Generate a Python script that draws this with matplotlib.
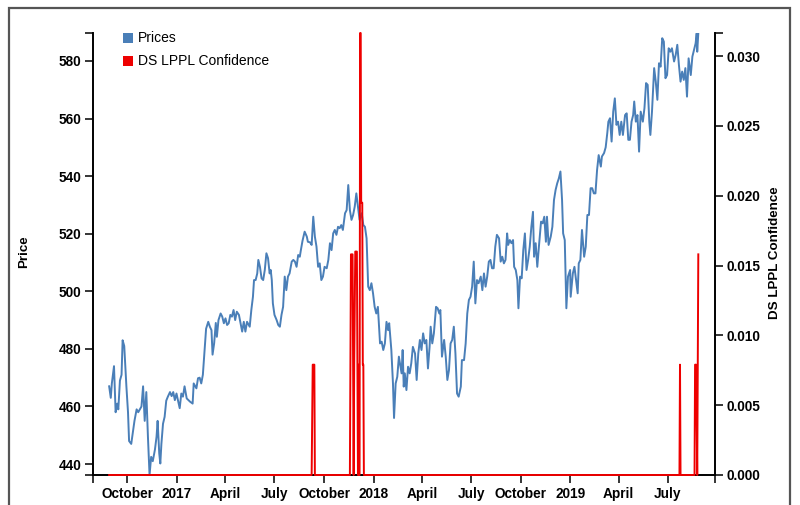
import matplotlib
matplotlib.use("Agg")
import matplotlib.pyplot as plt
from matplotlib.patches import Rectangle
from matplotlib.ticker import NullFormatter, FormatStrFormatter
import matplotlib.dates as mdates
import pandas as pd

# price series
price_dates = [
    "2016-08-28", "2016-08-31", "2016-09-02", "2016-09-06", "2016-09-09", "2016-09-12", "2016-09-14",
    "2016-09-17", "2016-09-20", "2016-09-22", "2016-09-25", "2016-09-29", "2016-10-02", "2016-10-04",
    "2016-10-08", "2016-10-11", "2016-10-14", "2016-10-18", "2016-10-21", "2016-10-24", "2016-10-27",
    "2016-10-30", "2016-11-02", "2016-11-05", "2016-11-08", "2016-11-11", "2016-11-14", "2016-11-17",
    "2016-11-21", "2016-11-24", "2016-11-26", "2016-11-29", "2016-12-01", "2016-12-03", "2016-12-06",
    "2016-12-09", "2016-12-12", "2016-12-15", "2016-12-19", "2016-12-22", "2016-12-25", "2016-12-28",
    "2016-12-31", "2017-01-06", "2017-01-09", "2017-01-12", "2017-01-15", "2017-01-19", "2017-01-25",
    "2017-01-30", "2017-02-01", "2017-02-06", "2017-02-09", "2017-02-12", "2017-02-15", "2017-02-18",
    "2017-02-22", "2017-02-24", "2017-02-28", "2017-03-03", "2017-03-06", "2017-03-08", "2017-03-11",
    "2017-03-14", "2017-03-16", "2017-03-19", "2017-03-23", "2017-03-26", "2017-03-29", "2017-04-01",
    "2017-04-04", "2017-04-07", "2017-04-10", "2017-04-13", "2017-04-16", "2017-04-19", "2017-04-22",
    "2017-04-26", "2017-04-29", "2017-05-02", "2017-05-05", "2017-05-08", "2017-05-11", "2017-05-16",
    "2017-05-19", "2017-05-22", "2017-05-24", "2017-05-27", "2017-05-30", "2017-06-01", "2017-06-04",
    "2017-06-07", "2017-06-10", "2017-06-13", "2017-06-16", "2017-06-19", "2017-06-22", "2017-06-24",
    "2017-06-26", "2017-06-28", "2017-07-01", "2017-07-05", "2017-07-08", "2017-07-11", "2017-07-14",
    "2017-07-17", "2017-07-20", "2017-07-23", "2017-07-26", "2017-07-29", "2017-08-02", "2017-08-05",
    "2017-08-08", "2017-08-11", "2017-08-14", "2017-08-17", "2017-08-19", "2017-08-22", "2017-08-26",
    "2017-08-30", "2017-09-01", "2017-09-05", "2017-09-08", "2017-09-11", "2017-09-14", "2017-09-17",
    "2017-09-20", "2017-09-23", "2017-09-26", "2017-09-29", "2017-10-02", "2017-10-06", "2017-10-09",
    "2017-10-12", "2017-10-15", "2017-10-18", "2017-10-21", "2017-10-24", "2017-10-27", "2017-10-30",
    "2017-11-02", "2017-11-05", "2017-11-09", "2017-11-12", "2017-11-15", "2017-11-18", "2017-11-21",
    "2017-11-24", "2017-11-27", "2017-11-30", "2017-12-03", "2017-12-06", "2017-12-10", "2017-12-13",
    "2017-12-16", "2017-12-19", "2017-12-22", "2017-12-25", "2017-12-28", "2017-12-31", "2018-01-03",
    "2018-01-06", "2018-01-09", "2018-01-13", "2018-01-16", "2018-01-19", "2018-01-22", "2018-01-25",
    "2018-01-28", "2018-01-30", "2018-02-03", "2018-02-06", "2018-02-08", "2018-02-11", "2018-02-14",
    "2018-02-17", "2018-02-22", "2018-02-24", "2018-02-26", "2018-02-28", "2018-03-03", "2018-03-06",
    "2018-03-09", "2018-03-12", "2018-03-15", "2018-03-19", "2018-03-22", "2018-03-25", "2018-03-28",
    "2018-03-31", "2018-04-03", "2018-04-06", "2018-04-09", "2018-04-12", "2018-04-15", "2018-04-17",
    "2018-04-20", "2018-04-23", "2018-04-27", "2018-04-30", "2018-05-03", "2018-05-05", "2018-05-08",
    "2018-05-12", "2018-05-15", "2018-05-18", "2018-05-21", "2018-05-24", "2018-05-27", "2018-05-30",
    "2018-06-02", "2018-06-05", "2018-06-08", "2018-06-12", "2018-06-14", "2018-06-18", "2018-06-21",
    "2018-06-24", "2018-06-27", "2018-06-30", "2018-07-03", "2018-07-06", "2018-07-09", "2018-07-12",
    "2018-07-15", "2018-07-19", "2018-07-22", "2018-07-25", "2018-07-28", "2018-07-31", "2018-08-03",
    "2018-08-06", "2018-08-09", "2018-08-12", "2018-08-15", "2018-08-18", "2018-08-22", "2018-08-25",
    "2018-08-28", "2018-08-31", "2018-09-03", "2018-09-06", "2018-09-08", "2018-09-11", "2018-09-14",
    "2018-09-17", "2018-09-19", "2018-09-22", "2018-09-25", "2018-09-27", "2018-09-30", "2018-10-03",
    "2018-10-06", "2018-10-09", "2018-10-12", "2018-10-15", "2018-10-18", "2018-10-21", "2018-10-24",
    "2018-10-26", "2018-10-29", "2018-11-01", "2018-11-04", "2018-11-08", "2018-11-11", "2018-11-14",
    "2018-11-17", "2018-11-19", "2018-11-22", "2018-11-26", "2018-11-29", "2018-12-02", "2018-12-05",
    "2018-12-08", "2018-12-11", "2018-12-14", "2018-12-17", "2018-12-19", "2018-12-22", "2018-12-25",
    "2018-12-28", "2019-01-01", "2019-01-02", "2019-01-06", "2019-01-09", "2019-01-12", "2019-01-15",
    "2019-01-17", "2019-01-20", "2019-01-23", "2019-01-27", "2019-01-30", "2019-02-02", "2019-02-05",
    "2019-02-08", "2019-02-11", "2019-02-14", "2019-02-17", "2019-02-20", "2019-02-23", "2019-02-27",
    "2019-03-01", "2019-03-05", "2019-03-08", "2019-03-11", "2019-03-13", "2019-03-16", "2019-03-19",
    "2019-03-22", "2019-03-25", "2019-03-28", "2019-03-31", "2019-04-03", "2019-04-06", "2019-04-09",
    "2019-04-13", "2019-04-16", "2019-04-19", "2019-04-22", "2019-04-25", "2019-04-28", "2019-04-30",
    "2019-05-03", "2019-05-06", "2019-05-09", "2019-05-12", "2019-05-16", "2019-05-19", "2019-05-22",
    "2019-05-25", "2019-05-28", "2019-05-30", "2019-06-02", "2019-06-06", "2019-06-09", "2019-06-12",
    "2019-06-15", "2019-06-18", "2019-06-21", "2019-06-24", "2019-06-27", "2019-06-30", "2019-07-03",
    "2019-07-06", "2019-07-09", "2019-07-13", "2019-07-16", "2019-07-19", "2019-07-22", "2019-07-25",
    "2019-07-28", "2019-07-31", "2019-08-03", "2019-08-06", "2019-08-09", "2019-08-13", "2019-08-16",
    "2019-08-19", "2019-08-22", "2019-08-24", "2019-08-25", "2019-08-27",
]
prices = [
    467, 463, 468, 474, 458, 461, 459,
    469, 471, 483, 481, 467, 458, 448,
    447, 451, 455, 459, 458, 459, 460,
    467, 455, 465, 449.5, 436.2, 442.5, 441,
    445, 449.5, 455, 443.7, 440.2, 447, 454,
    456.4, 462, 463.4, 465, 463.6, 465, 462.2,
    464.5, 459.4, 464.5, 463.4, 467, 462.8, 461.7,
    461, 468, 466.3, 469.8, 470, 468, 471,
    482, 487, 489.4, 487.7, 486.5, 478, 482,
    489, 484.2, 490, 492.3, 491.2, 488.9, 490.6,
    488.3, 488.9, 491.8, 491.2, 493.5, 490, 492.9,
    491.8, 488.9, 486, 489.4, 486, 489.4, 487.7,
    493.5, 498.1, 503.9, 503.9, 506.2, 510.9, 508.5,
    504.5, 503.9, 507.4, 513.2, 511.5, 506.2, 507.4,
    503.9, 495.8, 491.8, 490, 488.3, 487.7, 491.8,
    494.6, 505.1, 500.4, 505.1, 506.2, 510.3, 510.9,
    510.3, 508.5, 512.6, 512, 514.3, 517.5, 520.7,
    519, 517.2, 517, 516.1, 525.9, 519, 515.5,
    508.5, 509.7, 503.9, 505.1, 508.5, 508, 510.9,
    516.7, 514.3, 520.1, 521.3, 519.6, 522.4, 521.9,
    523, 521.3, 527.1, 528.2, 536.9, 528.2, 524.8,
    526.5, 529.4, 534, 529.4, 524.8, 527.1, 523,
    522.4, 518.4, 501.6, 500.4, 502.8, 499.3, 494.6,
    492.3, 494.6, 481.9, 482.5, 479.6, 481.9, 489.4,
    486.5, 488.9, 479.6, 468, 456, 468, 470.3,
    477.3, 471.5, 479.6, 466.9, 471.5, 465.7, 473.8,
    471.5, 475, 480.7, 478.4, 469.2, 478.4, 483.1,
    479.6, 485.4, 481.9, 483.1, 473.2, 480.7, 487.7,
    481.9, 485.4, 494.6, 494.1, 492.3, 493.5, 477.3,
    483.1, 477.3, 469.2, 472.6, 481.9, 483.1, 487.7,
    478.4, 464.5, 463.4, 466.9, 476.1, 476.1, 481.9,
    492.3, 497, 498.1, 501.6, 510.3, 495.8, 503.9,
    502.8, 505.1, 500.4, 506.2, 501.6, 505.1, 510.3,
    510.9, 508, 508, 515.5, 519.6, 518.4, 510.3,
    512, 509.7, 510.9, 520.1, 516.1, 517.8, 516.7,
    517.8, 508.5, 507.4, 503.9, 494.1, 505.1, 504.5,
    514.3, 520.1, 507.4, 510.9, 515.5, 522.4, 527.6,
    512, 516.7, 508.5, 515.5, 524.2, 523.6, 525.9,
    517.2, 525.9, 516.1, 519, 522.4, 531.7, 535.2,
    537.5, 539.2, 541.6, 531.7, 520.1, 517.8, 494.1,
    505.1, 507.4, 498.1, 506.2, 508.5, 503.9, 499.3,
    509.7, 510.9, 521.3, 512, 515.5, 526.5, 526.5,
    535.8, 535.8, 534, 534, 542.1, 547.3, 543.3,
    546.8, 548, 550, 555, 558.9, 560.1, 552,
    562.4, 567, 557.8, 558.9, 554.3, 558.9, 554.3,
    561.2, 561.8, 552.6, 552.6, 558.9, 561.2, 565.9,
    558.9, 561.2, 548.5, 562.4, 558.9, 563.6, 572.3,
    571.7, 558.9, 554.3, 562.4, 577.5, 572.8, 566.5,
    579.2, 578, 587.9, 586.7, 574, 575.1, 584.4,
    583.2, 584.4, 579.8, 582.1, 585.6, 578.6, 572.8,
    576.3, 573.4, 577.5, 567.6, 580.9, 575.1, 581.5,
    583.8, 586.1, 589.6, 583.2, 589.7,
]

# DS LPPL confidence, zero except for the spikes
conf_dates = [
    "2016-08-28", "2017-09-08", "2017-09-10", "2017-09-13", "2017-09-14",
    "2017-11-18", "2017-11-19", "2017-11-20", "2017-11-23", "2017-11-24", "2017-11-25", "2017-11-26",
    "2017-11-28", "2017-12-01", "2017-12-02", "2017-12-03", "2017-12-04", "2017-12-05", "2017-12-06",
    "2017-12-07", "2017-12-08", "2017-12-09", "2017-12-11", "2017-12-12", "2017-12-13", "2017-12-14",
    "2019-07-23", "2019-07-24", "2019-07-25", "2019-08-20", "2019-08-21", "2019-08-23", "2019-08-25",
    "2019-08-27",
]
conf_values = [
    0, 0, 0.0079, 0.0079, 0,
    0, 0.0079, 0.0158, 0.0158, 0.0079, 0, 0.0079,
    0.016, 0.016, 0.0079, 0, 0.0079, 0, 0,
    0.03165, 0.03165, 0.0195, 0.0195, 0.0079, 0.0079, 0,
    0, 0.0079, 0, 0, 0.0079, 0.0079, 0,
    0.0158,
]

tick_dates = ["2016-10-01", "2017-01-01", "2017-04-01", "2017-07-01", "2017-10-01", "2018-01-01",
              "2018-04-01", "2018-07-01", "2018-10-01", "2019-01-01", "2019-04-01", "2019-07-01"]
tick_labels = ["October", "2017", "April", "July", "October", "2018",
               "April", "July", "October", "2019", "April", "July"]
price_ticks = [440, 460, 480, 500, 520, 540, 560, 580]
conf_ticks = [0.0, 0.005, 0.010, 0.015, 0.020, 0.025, 0.030]

plt.rcParams['font.family'] = ['Liberation Sans', 'DejaVu Sans']

W, H = 800, 505
fig = plt.figure(figsize=(W / 100, H / 100), dpi=100)
ax = fig.add_axes([93 / W, 30 / H, 622 / W, 442 / H])

x0 = pd.Timestamp("2016-07-29")
x1 = pd.Timestamp("2019-09-27")

ax.plot(pd.to_datetime(price_dates), prices, color="#4a7fb8", lw=1.4)
ax.set_xlim(x0, x1)
ax.set_ylim(min(prices), max(prices))

ax2 = ax.twinx()
ax2.plot(pd.to_datetime(conf_dates), conf_values, color="#ee0000", lw=1.4, clip_on=False)
ax2.set_ylim(0, max(conf_values))
ax2.set_xlim(x0, x1)

tick_fs = 9.8
ax.set_xticks(pd.to_datetime(tick_dates))
ax.set_xticklabels(tick_labels, fontweight="bold", fontsize=tick_fs)
ax.set_xticks([mdates.date2num(x0), mdates.date2num(x1)], minor=True)
ax.xaxis.set_minor_formatter(NullFormatter())
ax.set_yticks(price_ticks)
ax.set_yticklabels([str(t) for t in price_ticks], fontweight="bold", fontsize=tick_fs)
ax.set_yticks([min(prices), max(prices)], minor=True)
ax.yaxis.set_minor_formatter(NullFormatter())

ax2.set_yticks(conf_ticks)
ax2.yaxis.set_major_formatter(FormatStrFormatter("%.3f"))
for lab in ax2.get_yticklabels():
    lab.set_fontweight("bold")
    lab.set_fontsize(tick_fs)
ax2.set_yticks([max(conf_values)], minor=True)
ax2.yaxis.set_minor_formatter(NullFormatter())

for a in (ax, ax2):
    a.tick_params(which="both", length=6, width=1.1, direction="out", colors="black", pad=2.5)
    a.set_facecolor("none")

for s in ["top", "right"]:
    ax.spines[s].set_visible(False)
for s in ["top", "left", "bottom"]:
    ax2.spines[s].set_visible(False)
ax.spines["left"].set_linewidth(1.4)
ax.spines["bottom"].set_linewidth(1.4)
ax2.spines["right"].set_linewidth(1.4)

# axis titles
fig.text(24 / W, 1 - 252 / H, "Price", rotation=90, ha="center", va="center",
         fontweight="bold", fontsize=9.6)
fig.text(775 / W, 1 - 253 / H, "DS LPPL Confidence", rotation=90, ha="center", va="center",
         fontweight="bold", fontsize=9.6)

# legend
legend_items = [("Prices", "#4a7fb8", 38), ("DS LPPL Confidence", "#ee0000", 61)]
for name, col, yc in legend_items:
    fig.add_artist(Rectangle((123 / W, 1 - (yc + 5) / H), 10 / W, 10 / H,
                             transform=fig.transFigure, color=col, lw=0))
    fig.text(138 / W, 1 - yc / H, name, ha="left", va="center", fontsize=10)

# outer frame
fig.add_artist(Rectangle((9 / W, -0.05), 781 / W, 1 - 8 / H + 0.05, transform=fig.transFigure,
                         fill=False, edgecolor="#555555", lw=1.6))

fig.savefig("out.png", dpi=100)
